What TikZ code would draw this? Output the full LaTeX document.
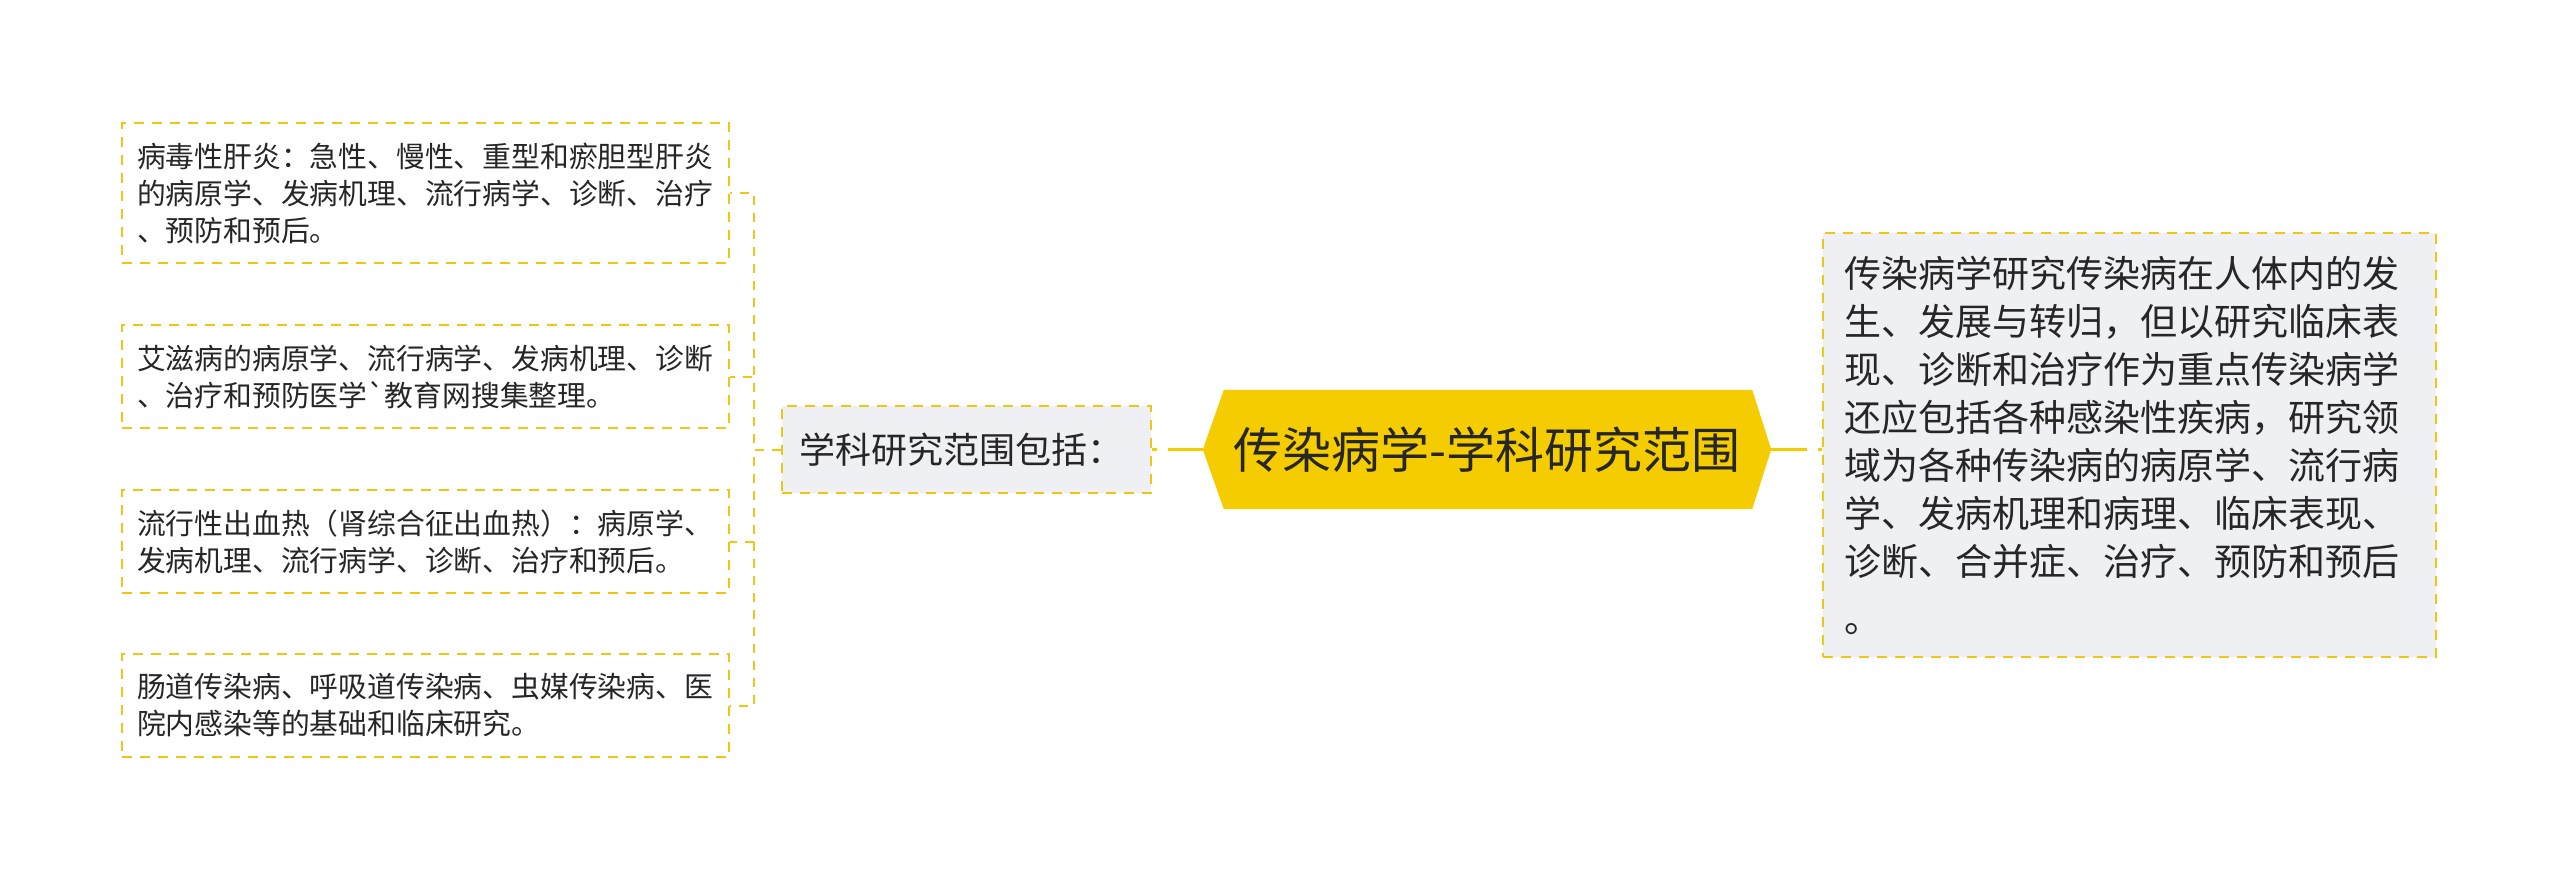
\documentclass[tikz,border=0pt]{standalone}
\usepackage{fontspec}
\setmainfont{Noto Sans CJK SC}
\usetikzlibrary{backgrounds}
\definecolor{myyellow}{RGB}{245,204,0}
\definecolor{bordery}{RGB}{240,198,20}
\definecolor{boxgray}{RGB}{238,240,243}
\definecolor{txt}{RGB}{38,38,38}
\begin{document}
\begin{tikzpicture}[x=1pt,y=-1pt,
  leaf/.style={draw=bordery, line width=2pt, dash pattern=on 10pt off 8pt, fill=white,
    text=txt, align=left, text width=577pt, inner xsep=15pt, inner ysep=0pt,
    minimum width=607pt, minimum height=103pt, font=\fontsize{28.8}{37}\selectfont},
  graybox/.style={draw=bordery, line width=2pt, dash pattern=on 10pt off 8pt, fill=boxgray,
    text=txt, align=left, inner ysep=0pt},
  centernode/.style={text=txt, inner sep=0pt, minimum width=568pt, minimum height=119pt,
    font=\fontsize{49}{56}\selectfont},
  tree/.style={draw=bordery, line width=2pt, dash pattern=on 9pt off 8pt},
  mainlink/.style={draw=myyellow, line width=3.5pt}
]
\useasboundingbox (0,0) rectangle (2560,881);

% centre
\node[centernode] (c) at (1487,449.5) {传染病学-学科研究范围};
\begin{scope}[on background layer]
\fill[myyellow] (c.west) -- ([xshift=21pt]c.north west) -- ([xshift=-19pt]c.north east)
  -- (c.east) -- ([xshift=-19pt]c.south east) -- ([xshift=21pt]c.south west) -- cycle;
\end{scope}

% sub node
\node[graybox, text width=335pt, inner xsep=17pt, minimum width=369pt, minimum height=87pt,
  font=\fontsize{36}{44}\selectfont] (sub) at (966.5,449.5) {学科研究范围包括：};

% right box
\node[graybox, text width=571pt, inner xsep=21pt, minimum width=613pt, minimum height=424pt,
  font=\fontsize{37}{48}\selectfont] (rb) at (2129.5,445) {传染病学研究传染病在人体内的发\\生、发展与转归，但以研究临床表\\现、诊断和治疗作为重点传染病学\\还应包括各种感染性疾病，研究领\\域为各种传染病的病原学、流行病\\学、发病机理和病理、临床表现、\\诊断、合并症、治疗、预防和预后\\[9pt]。};

% leaves
\node[leaf, minimum height=140pt] (l1) at (425.5,193) {病毒性肝炎：急性、慢性、重型和瘀胆型肝炎\\的病原学、发病机理、流行病学、诊断、治疗\\、预防和预后。};
\node[leaf] (l2) at (425.5,376.5) {艾滋病的病原学、流行病学、发病机理、诊断\\、治疗和预防医学\textasciigrave 教育网搜集整理。};
\node[leaf] (l3) at (425.5,541.5) {流行性出血热（肾综合征出血热）：病原学、\\发病机理、流行病学、诊断、治疗和预后。};
\node[leaf] (l4) at (425.5,705.5) {肠道传染病、呼吸道传染病、虫媒传染病、医\\院内感染等的基础和临床研究。};

% connectors
\draw[mainlink, dash pattern=on 5pt off 11pt on 60pt] (sub.east) -- (c.west);
\draw[mainlink, dash pattern=on 36pt off 11pt on 10pt] (c.east) -- (c.east -| rb.west);
\foreach \n in {l1,l2,l3,l4}
  \draw[tree] (sub.west) -- ++(-27,0) |- (\n.east);
\end{tikzpicture}
\end{document}
